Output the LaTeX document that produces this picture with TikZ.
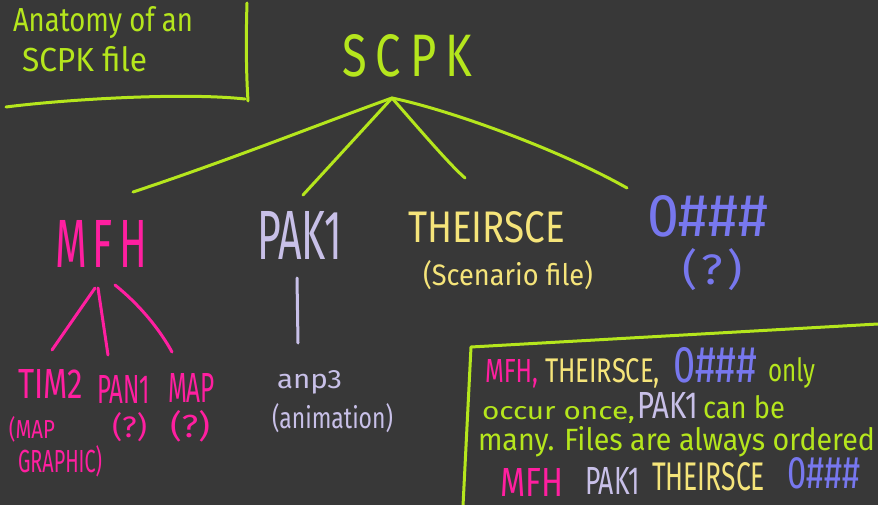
\documentclass[tikz,border=0pt]{standalone}
\usepackage{fontspec}
\usepackage{graphicx}
\setmainfont{Fira Sans}
\definecolor{bg}{HTML}{383838}
\definecolor{lime}{HTML}{B5E61D}
\definecolor{hpink}{HTML}{FF1FA0}
\definecolor{lav}{HTML}{C8C0E8}
\definecolor{yel}{HTML}{F5E47A}
\definecolor{blu}{HTML}{7777EE}
\newcommand{\fitt}[3]{\resizebox{#1pt}{#2pt}{#3}}
\tikzset{
  lbl/.style={anchor=base west, inner sep=0pt, outer sep=0pt},
  stroke/.style={line width=3pt, line cap=round, line join=round},
}
\begin{document}
\begin{tikzpicture}[x=1pt,y=-1pt]
\useasboundingbox (0,0) rectangle (878,505);
\fill[bg] (0,0) rectangle (878,505);

% title box
\node[lbl, text=lime] (title1) at (13,32) {\fitt{180}{25}{Anatomy of an}};
\node[lbl, text=lime] (title2) at (22,72) {\fitt{125}{25}{SCPK file}};
\draw[stroke, lime] (6,107) .. controls (60,100) and (180,92) .. (245,99);
\draw[stroke, lime] (247,3) .. controls (246,35) and (246,70) .. (248,101);

% root
\node[lbl, text=lime] (scpk) at (342,77) {\fitt{130}{42}{S\hspace{0.2em}C\hspace{0.2em}P\hspace{0.2em}K}};
\coordinate (root) at (392,98);
\coordinate (eMFH) at (133,192);
\coordinate (ePAK) at (303,195);
\coordinate (eTHE) at (465,178);
\coordinate (eZER) at (627,188);
\draw[stroke, lime] (root) .. controls (330,120) and (230,160) .. (eMFH);
\draw[stroke, lime] (root) -- (ePAK);
\draw[stroke, lime] (root) .. controls (420,130) and (450,165) .. (eTHE);
\draw[stroke, lime] (root) .. controls (450,110) and (560,150) .. (eZER);

% children
\node[lbl, text=hpink] (mfh) at (55,267) {\fitt{92}{47}{M\hspace{0.15em}F\hspace{0.15em}H}};
\node[lbl, text=lav] (pak) at (257,259) {\fitt{85}{48}{PAK1}};
\node[lbl, text=yel] (theirsce) at (408,243) {\fitt{157}{31}{THEIRSCE}};
\node[lbl, text=yel] (scen) at (423,285) {\fitt{170}{25}{(Scenario file)}};
\node[lbl, text=blu] (zero) at (647,236) {\fitt{121}{41}{0\#\#\#}};
\node[lbl, text=blu] (zeroq) at (682,284) {\fitt{61}{36}{(\hspace{0.1em}?\hspace{0.1em})}};

% MFH subtree
\coordinate (m1a) at (95,288);
\coordinate (m1b) at (52,350);
\coordinate (m2a) at (98,288);
\coordinate (m2b) at (108,355);
\coordinate (m3a) at (115,285);
\coordinate (m3b) at (172,352);
\draw[stroke, hpink] (m1a) -- (m1b);
\draw[stroke, hpink] (m2a) -- (m2b);
\draw[stroke, hpink] (m3a) .. controls (140,305) and (160,330) .. (m3b);

\node[lbl, text=hpink] (tim) at (18,398) {\fitt{65}{29}{TIM2}};
\node[lbl, text=hpink] (pan) at (97,403) {\fitt{53}{28}{PAN1}};
\node[lbl, text=hpink] (map) at (168,402) {\fitt{47}{29}{MAP}};
\node[lbl, text=hpink] (tima) at (9,438) {\fitt{46}{22}{(MAP}};
\node[lbl, text=hpink] (timb) at (18,472) {\fitt{84}{27}{GRAPHIC)}};
\node[lbl, text=hpink] (panq) at (112,437) {\fitt{35}{25}{(?)}};
\node[lbl, text=hpink] (mapq) at (170,437) {\fitt{40}{27}{(?)}};

% PAK1 subtree
\coordinate (p1a) at (297,278);
\coordinate (p1b) at (298,343);
\draw[stroke, lav] (p1a) -- (p1b);
\node[lbl, text=lav] (anp) at (277,388) {\fitt{65}{18}{anp3}};
\node[lbl, text=lav] (anim) at (272,428) {\fitt{121}{25}{(animation)}};

% note box
\coordinate (bTL) at (471,347);
\coordinate (bTR) at (878,324);
\coordinate (bBL) at (463,506);
\draw[stroke, lime] (bBL) -- (bTL) -- (bTR);

\node[lbl, text=hpink] (n1a) at (485,382) {\fitt{53}{23}{MFH,}};
\node[lbl, text=yel] (n1b) at (545,382) {\fitt{115}{24}{THEIRSCE,}};
\node[lbl, text=blu] (n1c) at (673,382) {\fitt{84}{35}{0\#\#\#}};
\node[lbl, text=lime] (n1d) at (768,381) {\fitt{47}{24}{only}};

\node[lbl, text=lime] (n2a) at (482,419) {\fitt{153}{13}{occur once,}};
\node[lbl, text=lav] (n2b) at (637,418) {\fitt{61}{26}{PAK1}};
\node[lbl, text=lime] (n2c) at (703,418) {\fitt{82}{23}{can be}};

\node[lbl, text=lime] (n3) at (478,450) {\fitt{397}{24}{many. Files are always ordered}};

\node[lbl, text=hpink] (n4a) at (500,496) {\fitt{63}{28}{MFH}};
\node[lbl, text=lav] (n4b) at (585,494) {\fitt{55}{27}{PAK1}};
\node[lbl, text=yel] (n4c) at (652,490) {\fitt{113}{28}{THEIRSCE}};
\node[lbl, text=blu] (n4d) at (787,488) {\fitt{73}{31}{0\#\#\#}};
\end{tikzpicture}
\end{document}
